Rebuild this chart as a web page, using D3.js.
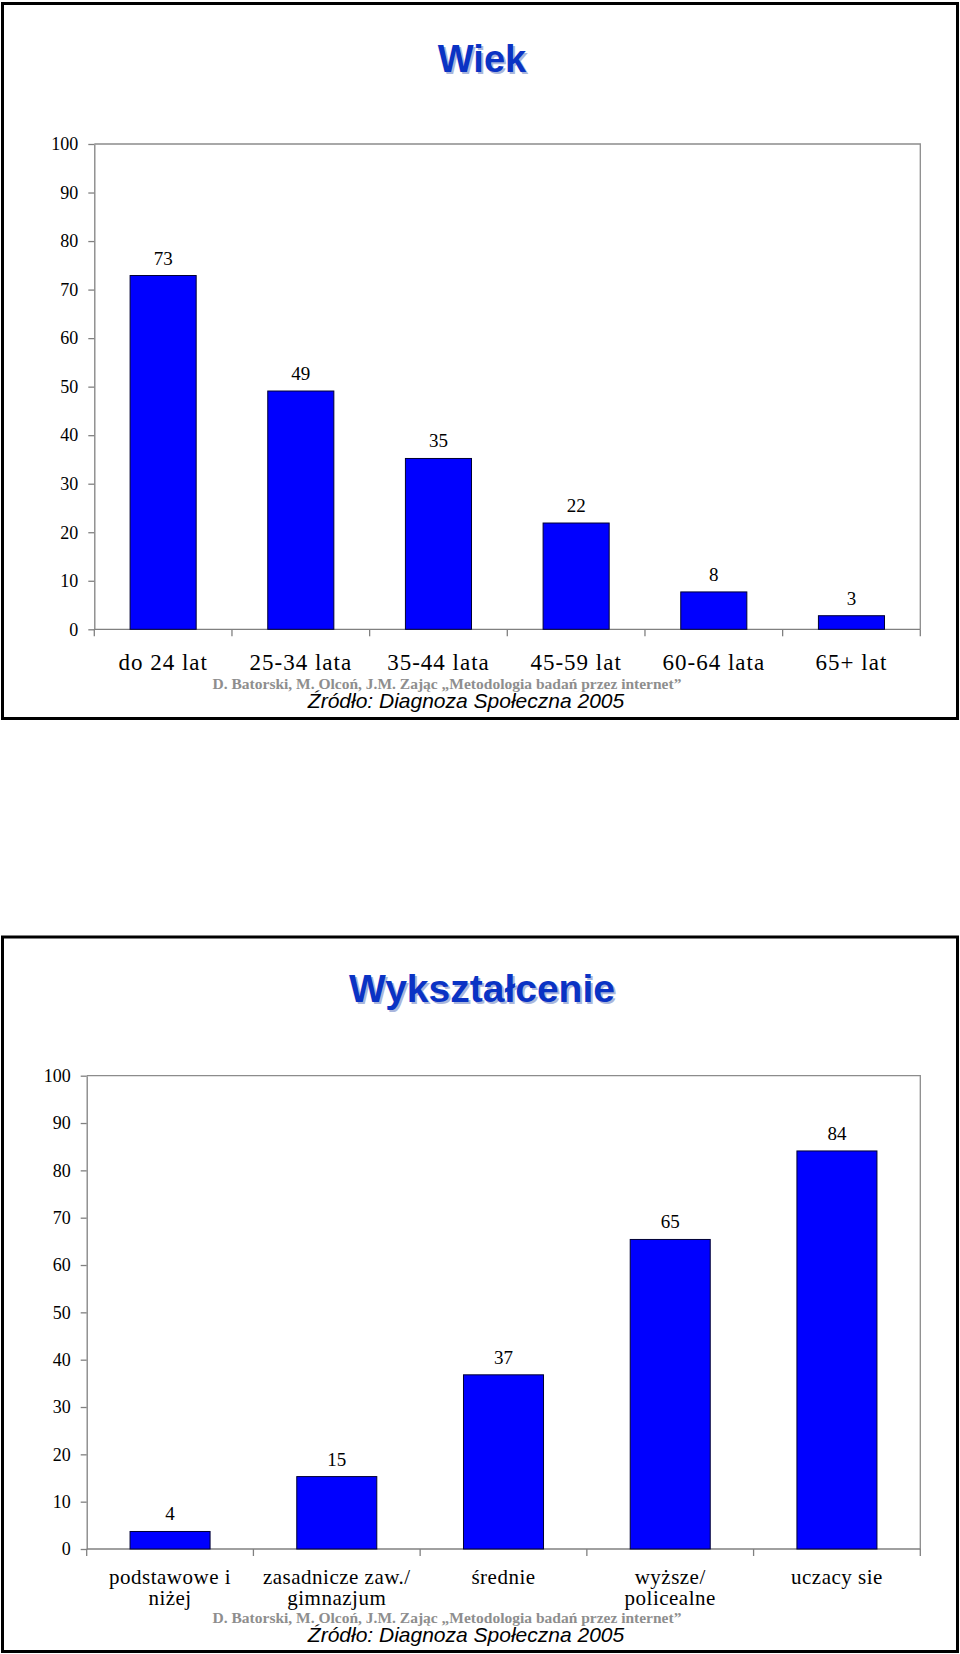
<!DOCTYPE html>
<html>
<head>
<meta charset="utf-8">
<script src="https://cdn.jsdelivr.net/npm/d3@7"></script>
<style>
  body { margin: 0; background: #fff; }
  svg { display: block; }
</style>
</head>
<body>
<svg id="chart" width="960" height="1654"></svg>
<script>
// data
const ageCategories = ["do 24 lat", "25-34 lata", "35-44 lata", "45-59 lat", "60-64 lata", "65+ lat"];
const ageValues = [72.9, 49.1, 35.2, 21.9, 7.7, 2.8];

const eduCategories = ["podstawowe i\nniżej", "zasadnicze zaw./\ngimnazjum", "średnie", "wyższe/\npolicealne", "uczacy sie"];
const eduValues = [3.7, 15.3, 36.8, 65.4, 84.1];

const yTicks = [0, 10, 20, 30, 40, 50, 60, 70, 80, 90, 100];

const credits = "D. Batorski, M. Olcoń,  J.M. Zając „Metodologia badań przez internet”";
const source = "Źródło: Diagnoza Społeczna 2005";

let svg = d3.select("#chart");

// one framed panel with a bar chart inside
function drawPanel(opts) {
    const g = svg.append("g").attr("transform", "translate(0," + opts.top + ")");

    // black frame
    g.append("rect")
        .attr("x", 2.5).attr("y", 1.5)
        .attr("width", 955).attr("height", opts.height)
        .attr("fill", "none")
        .attr("stroke", "#000")
        .attr("stroke-width", 3);

    // title with a soft shadow
    [["#aab6dc", 2], ["#0a33c4", 0]].forEach(function (s) {
        g.append("text")
            .attr("x", 482 + s[1]).attr("y", opts.titleY + s[1])
            .attr("text-anchor", "middle")
            .style("font-family", "'Liberation Sans', Arial, sans-serif")
            .style("font-weight", "bold")
            .style("font-size", opts.titleSize + "px")
            .attr("fill", s[0])
            .text(opts.title);
    });

    const x = d3.scaleBand()
        .domain(opts.categories)
        .range([opts.left, 920.3])
        .paddingInner(0.52)
        .paddingOuter(0.26);

    const y = d3.scaleLinear()
        .domain([0, 100])
        .range([opts.zero, opts.hundred]);

    // plot area border (top + right)
    g.append("path")
        .attr("d", "M" + x.range()[0] + "," + y(100) + "H" + x.range()[1] + "V" + y(0))
        .attr("fill", "none")
        .attr("stroke", "#8c8c8c")
        .attr("stroke-width", 1.3);

    // y axis
    const yAxis = g.append("g")
        .attr("transform", "translate(" + x.range()[0] + ",0)")
        .call(d3.axisLeft(y).tickValues(yTicks).tickSize(6).tickSizeOuter(0).tickPadding(10));
    yAxis.selectAll("path, line").attr("stroke", "#808080").attr("stroke-width", 1.3);
    yAxis.selectAll("text")
        .style("font-family", "'Liberation Serif', 'Times New Roman', serif")
        .style("font-size", "18px")
        .attr("fill", "#000");

    // x axis line + ticks at category boundaries
    g.append("line")
        .attr("x1", x.range()[0]).attr("x2", x.range()[1])
        .attr("y1", y(0)).attr("y2", y(0))
        .attr("stroke", "#808080").attr("stroke-width", 1.3);
    g.append("g").selectAll("line")
        .data(d3.range(opts.categories.length + 1))
        .enter().append("line")
        .attr("x1", function (i) { return x.range()[0] + i * x.step(); })
        .attr("x2", function (i) { return x.range()[0] + i * x.step(); })
        .attr("y1", y(0)).attr("y2", y(0) + 7)
        .attr("stroke", "#808080").attr("stroke-width", 1.3);

    // bars
    g.append("g").selectAll("rect")
        .data(opts.values)
        .enter().append("rect")
        .attr("x", function (d, i) { return x(opts.categories[i]); })
        .attr("y", function (d) { return y(d); })
        .attr("width", x.bandwidth())
        .attr("height", function (d) { return y(0) - y(d); })
        .attr("fill", "#0000ff")
        .attr("stroke", "#000033")
        .attr("stroke-width", 1);

    // value labels
    g.append("g").selectAll("text")
        .data(opts.values)
        .enter().append("text")
        .attr("x", function (d, i) { return x(opts.categories[i]) + x.bandwidth() / 2; })
        .attr("y", function (d) { return y(d) - 11; })
        .attr("text-anchor", "middle")
        .style("font-family", "'Liberation Serif', 'Times New Roman', serif")
        .style("font-size", "19px")
        .text(function (d) { return d3.format(".0f")(d); });

    // category labels (may wrap to two lines)
    const labels = g.append("g").selectAll("text")
        .data(opts.categories)
        .enter().append("text")
        .attr("x", function (d) { return x(d) + x.bandwidth() / 2; })
        .attr("y", y(0) + opts.labelGap)
        .attr("text-anchor", "middle")
        .style("font-family", "'Liberation Serif', 'Times New Roman', serif")
        .style("font-size", opts.labelSize + "px")
        .style("letter-spacing", opts.labelSpacing + "px");
    labels.each(function (d) {
        const t = d3.select(this);
        d.split("\n").forEach(function (line, k) {
            t.append("tspan")
                .attr("x", t.attr("x"))
                .attr("dy", k === 0 ? 0 : 21)
                .text(line);
        });
    });

    // credits and source
    g.append("text")
        .attr("x", 447).attr("y", opts.creditsY)
        .attr("text-anchor", "middle")
        .style("font-family", "'Liberation Serif', 'Times New Roman', serif")
        .style("font-weight", "bold")
        .style("font-size", "15.5px")
        .attr("fill", "#8e8e8e")
        .text(credits);

    g.append("text")
        .attr("x", 466).attr("y", opts.sourceY)
        .attr("text-anchor", "middle")
        .style("font-family", "'Liberation Sans', Arial, sans-serif")
        .style("font-style", "italic")
        .style("font-size", "21px")
        .attr("fill", "#000")
        .text(source);
}

drawPanel({
    top: 2, height: 715, title: "Wiek", titleY: 70, titleSize: 38,
    categories: ageCategories, values: ageValues,
    left: 94.3, zero: 627.3, hundred: 142,
    labelGap: 41, labelSize: 23, labelSpacing: 1,
    creditsY: 687, sourceY: 706
});

drawPanel({
    top: 935.5, height: 714.5, title: "Wykształcenie", titleY: 66, titleSize: 39,
    categories: eduCategories, values: eduValues,
    left: 86.7, zero: 613.5, hundred: 140.2,
    labelGap: 35, labelSize: 21, labelSpacing: 0.5,
    creditsY: 687, sourceY: 706
});
</script>
</body>
</html>
